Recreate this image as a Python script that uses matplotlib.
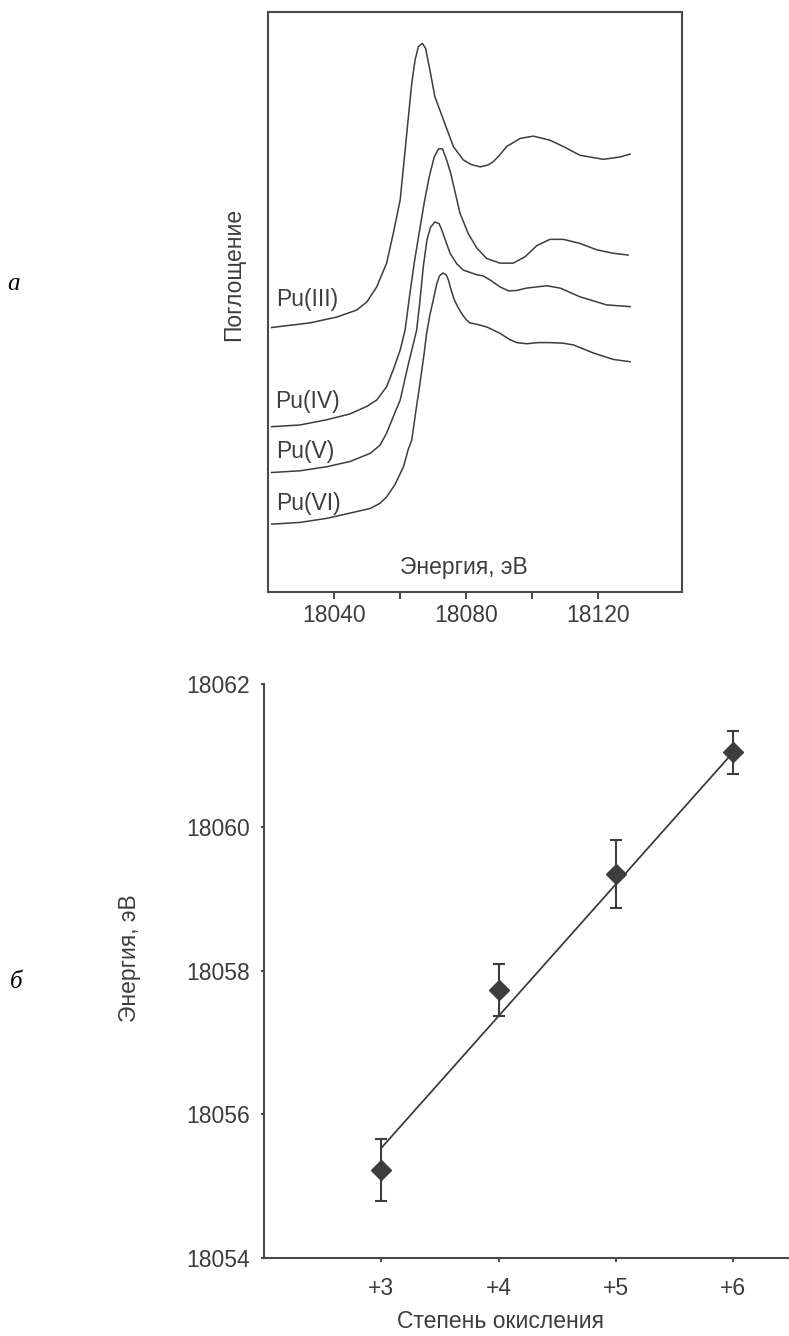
# XANES спектры Pu и зависимость энергии края от степени окисления
import numpy as np
import matplotlib.pyplot as plt

plt.rcParams['font.family'] = ['Liberation Sans', 'DejaVu Sans']

GRAY = '#3d3d3d'
SPINE = '#4a4a4a'

# ================= ДАННЫЕ: СПЕКТРЫ (энергия, эВ / поглощение, отн. ед.) =================
e_pu3 = [18021.1, 18032.7, 18040.8, 18046.8, 18049.9, 18052.9, 18055.9, 18057.9, 18060.0,
         18061.0, 18062.5, 18063.5, 18064.5, 18065.5, 18066.7, 18067.7, 18069.0, 18070.5,
         18073.1, 18076.1, 18079.1, 18081.5, 18084.2, 18086.5, 18088.2, 18090.2, 18092.2,
         18096.3, 18100.3, 18105.3, 18109.4, 18114.4, 18121.5, 18126.5, 18129.6]
a_pu3 = [0.456, 0.464, 0.474, 0.486, 0.500, 0.526, 0.567, 0.618, 0.676,
         0.733, 0.820, 0.877, 0.917, 0.940, 0.946, 0.937, 0.900, 0.854,
         0.814, 0.768, 0.745, 0.737, 0.733, 0.736, 0.742, 0.754, 0.768,
         0.782, 0.786, 0.779, 0.768, 0.753, 0.746, 0.750, 0.755]

e_pu4 = [18021.1, 18029.7, 18037.8, 18044.8, 18049.9, 18052.9, 18055.9, 18057.9, 18060.0,
         18061.5, 18063.0, 18064.3, 18065.8, 18067.3, 18068.8, 18070.3, 18071.6, 18072.8,
         18074.0, 18075.3, 18076.6, 18078.1, 18080.6, 18083.2, 18086.2, 18090.2, 18094.2,
         18097.8, 18101.3, 18105.3, 18109.4, 18114.4, 18119.5, 18124.5, 18129.0]
a_pu4 = [0.285, 0.288, 0.297, 0.307, 0.320, 0.331, 0.354, 0.383, 0.417,
         0.452, 0.517, 0.569, 0.621, 0.672, 0.716, 0.750, 0.764, 0.764,
         0.746, 0.722, 0.690, 0.653, 0.618, 0.593, 0.575, 0.567, 0.567,
         0.578, 0.597, 0.608, 0.608, 0.601, 0.590, 0.584, 0.581]

e_pu5 = [18021.1, 18029.7, 18037.8, 18044.8, 18050.9, 18053.9, 18055.9, 18057.9, 18060.0,
         18062.4, 18063.9, 18065.0, 18066.0, 18067.0, 18068.1, 18069.2, 18070.5, 18071.8,
         18072.6, 18075.1, 18077.1, 18079.1, 18083.2, 18085.1, 18087.2, 18090.2, 18092.9,
         18095.3, 18098.3, 18104.4, 18108.4, 18114.4, 18122.5, 18129.6]
a_pu5 = [0.206, 0.209, 0.216, 0.225, 0.239, 0.253, 0.274, 0.302, 0.331,
         0.391, 0.426, 0.452, 0.503, 0.561, 0.607, 0.629, 0.638, 0.635,
         0.624, 0.584, 0.566, 0.555, 0.547, 0.545, 0.538, 0.526, 0.519,
         0.520, 0.524, 0.528, 0.524, 0.509, 0.495, 0.492]

e_pu6 = [18021.1, 18029.7, 18037.8, 18044.8, 18050.9, 18053.9, 18055.9, 18058.4, 18061.0,
         18062.4, 18063.5, 18064.8, 18066.0, 18067.2, 18068.0, 18069.0, 18070.0, 18071.1,
         18071.9, 18072.9, 18073.9, 18074.6, 18075.4, 18076.3, 18077.3, 18078.5, 18079.9,
         18081.1, 18083.6, 18086.2, 18090.2, 18093.2, 18095.3, 18098.3, 18101.7, 18105.3,
         18109.3, 18112.4, 18118.5, 18124.5, 18129.6]
a_pu6 = [0.117, 0.120, 0.127, 0.136, 0.144, 0.153, 0.164, 0.185, 0.216,
         0.245, 0.262, 0.314, 0.360, 0.409, 0.446, 0.478, 0.503, 0.532,
         0.545, 0.550, 0.547, 0.538, 0.521, 0.505, 0.493, 0.481, 0.470,
         0.464, 0.461, 0.457, 0.446, 0.435, 0.430, 0.428, 0.430, 0.430,
         0.429, 0.426, 0.412, 0.401, 0.397]

spectra = [(e_pu3, a_pu3), (e_pu4, a_pu4), (e_pu5, a_pu5), (e_pu6, a_pu6)]
spec_labels = ['Pu(III)', 'Pu(IV)', 'Pu(V)', 'Pu(VI)']
label_e = [18022.4, 18022.1, 18022.4, 18022.4]
label_a = [0.505, 0.329, 0.242, 0.153]

# ================= ДАННЫЕ: ЭНЕРГИЯ КРАЯ =================
ox_states = [3, 4, 5, 6]
ox_labels = ['+3', '+4', '+5', '+6']
edge_energy = [18055.22, 18057.73, 18059.35, 18061.05]
edge_err = [0.43, 0.36, 0.48, 0.30]
fit_x = [3, 6]
fit_y = [18055.53, 18061.05]

# ================= ФИГУРА =================
fig = plt.figure(figsize=(7.89, 13.36), dpi=100)
W, H = 789, 1336

# ---------- (а) спектры ----------
ax1 = fig.add_axes([268 / W, 1 - 592 / H, (681.7 - 268) / W, 580 / H])
for (e, a) in spectra:
    ax1.plot(e, a, color=GRAY, lw=1.1, solid_joinstyle='round')
for lab, le, la in zip(spec_labels, label_e, label_a):
    ax1.text(le, la, lab, fontsize=16.5, color=GRAY, ha='left', va='center')

ax1.set_xlim(18020, 18145.2)
ax1.set_ylim(0, 1)
ax1.set_xticks([18040, 18080, 18120])
ax1.set_xticks([18060, 18100], minor=True)
ax1.set_yticks([])
ax1.tick_params(axis='x', which='both', direction='out', length=5, width=1.5,
                color=SPINE, labelsize=16.5, labelcolor=GRAY, pad=4)
for sp in ax1.spines.values():
    sp.set_linewidth(1.5)
    sp.set_color(SPINE)
ax1.text(0.474, 0.043, 'Энергия, эВ', transform=ax1.transAxes, fontsize=16.5,
         color=GRAY, ha='center', va='center')
ax1.text(-0.082, 0.548, 'Поглощение', transform=ax1.transAxes, fontsize=16.5,
         color=GRAY, ha='center', va='center', rotation=90)

# ---------- (б) энергия края ----------
ax2 = fig.add_axes([264 / W, 1 - 1257.7 / H, (W - 264) / W, (1257.7 - 684) / H])
ax2.plot(fit_x, fit_y, color=GRAY, lw=1.3, zorder=2)
ax2.errorbar(ox_states, edge_energy, yerr=edge_err, fmt='D', color=GRAY, ms=10.5,
             capsize=4, elinewidth=1.5, capthick=1.5, zorder=3)

ax2.set_xlim(2, 6.475)
ax2.set_ylim(18054, 18062)
ax2.set_xticks(ox_states)
ax2.set_xticklabels(ox_labels)
ax2.set_yticks([18054, 18056, 18058, 18060, 18062])
ax2.spines['top'].set_visible(False)
ax2.spines['right'].set_visible(False)
for sp in ['left', 'bottom']:
    ax2.spines[sp].set_linewidth(1.5)
    ax2.spines[sp].set_color(SPINE)
ax2.tick_params(axis='x', direction='out', length=3, width=1.5, color=SPINE,
                labelsize=16.5, labelcolor=GRAY, pad=11)
ax2.tick_params(axis='y', direction='out', length=2.5, width=1.5, color=SPINE,
                labelsize=16.5, labelcolor=GRAY, pad=7.5)
ax2.set_xlabel('Степень окисления', fontsize=16.5, color=GRAY, va='center')
ax2.xaxis.set_label_coords(0.4514, -0.112)
ax2.set_ylabel('Энергия, эВ', fontsize=16.5, color=GRAY, va='center')
ax2.yaxis.set_label_coords(-0.257, 0.522)

# ---------- подписи панелей ----------
fig.text(14 / W, 1 - 284 / H, 'а', fontsize=18, style='italic',
         family=['Liberation Serif', 'DejaVu Serif'], ha='center', va='center')
fig.text(16 / W, 1 - 982 / H, 'б', fontsize=18, style='italic',
         family=['Liberation Serif', 'DejaVu Serif'], ha='center', va='center')

fig.savefig('out.png', dpi=100)
